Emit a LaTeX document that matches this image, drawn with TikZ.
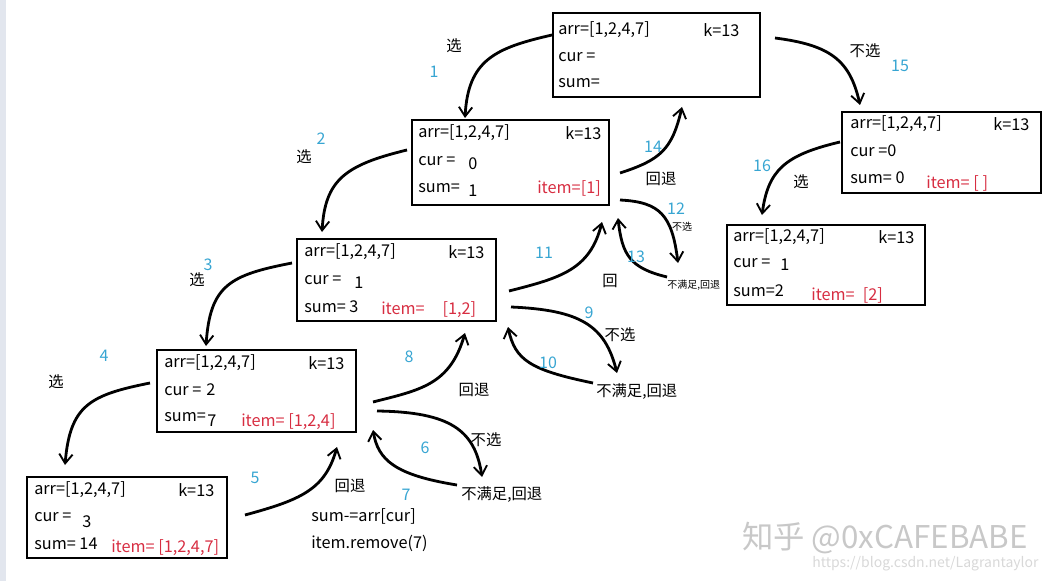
\documentclass[tikz,border=0pt]{standalone}
\usepackage{fontspec}
\setmainfont{Noto Sans CJK SC}
\usetikzlibrary{arrows.meta,fit}
\definecolor{numblue}{RGB}{55,165,210}
\definecolor{itemred}{RGB}{215,45,65}
\definecolor{wmgray}{RGB}{200,200,200}
\definecolor{stripgray}{RGB}{226,230,238}
\tikzset{
  box/.style={draw=black,line width=0.9pt,inner sep=0pt},
  txt/.style={anchor=west,inner sep=0pt,font=\fontsize{12.2}{14}\selectfont},
  red/.style={txt,text=itemred},
  num/.style={inner sep=0pt,text=numblue,font=\fontsize{12}{14}\selectfont},
  lab/.style={inner sep=0pt,font=\fontsize{11.5}{13}\selectfont},
  small/.style={inner sep=0pt,font=\fontsize{7.5}{9}\selectfont},
  flow/.style={line width=2.1pt,-{Straight Barb[length=7pt,width=10pt,line width=1.4pt]}},
}
\begin{document}
\begin{tikzpicture}[x=0.75pt,y=-0.75pt]
\useasboundingbox (0,0) rectangle (1055,581);
\fill[stripgray] (0,0) rectangle (6,581);

% boxes
\node[box,fit={(553,13) (760,97)}] (A) {};
\node[box,fit={(412,120) (609,205)}] (B) {};
\node[box,fit={(297,239) (496,321)}] (C) {};
\node[box,fit={(157,350) (356,432)}] (D) {};
\node[box,fit={(27,477) (227,558)}] (E) {};
\node[box,fit={(842,112) (1041,193)}] (F) {};
\node[box,fit={(727,225) (925,305)}] (G) {};

% box A
\node[txt] (A1) at (558,30) {arr=[1,2,4,7]};
\node[txt] (A2) at (703,30) {k=13};
\node[txt] (A3) at (558,57) {cur =};
\node[txt] (A4) at (558,83) {sum=};
% box B
\node[txt] (B1) at (418,133) {arr=[1,2,4,7]};
\node[txt] (B2) at (565,133) {k=13};
\node[txt] (B3) at (418,161) {cur =};
\node[txt] (B4) at (468,164) {0};
\node[txt] (B5) at (418,188) {sum=};
\node[txt] (B6) at (468,191) {1};
\node[red] (B7) at (537,188) {item=[1]};
% box C
\node[txt] (C1) at (304,252) {arr=[1,2,4,7]};
\node[txt] (C2) at (448,252) {k=13};
\node[txt] (C3) at (304,280) {cur =};
\node[txt] (C4) at (354,283) {1};
\node[txt] (C5) at (304,307) {sum= 3};
\node[red] (C6) at (381,310) {item=\hspace{1.1em}[1,2]};
% box D
\node[txt] (D1) at (164,363) {arr=[1,2,4,7]};
\node[txt] (D2) at (308,363) {k=13};
\node[txt] (D3) at (164,390) {cur =\hspace{0.3em}2};
\node[txt] (D4) at (164,417) {sum=};
\node[txt] (D5) at (207,421) {7};
\node[red] (D6) at (241,422) {item= [1,2,4]};
% box E
\node[txt] (E1) at (34,490) {arr=[1,2,4,7]};
\node[txt] (E2) at (178,490) {k=13};
\node[txt] (E3) at (34,517) {cur =};
\node[txt] (E4) at (82,522) {3};
\node[txt] (E5) at (34,544) {sum= 14};
\node[red] (E6) at (111,548) {item= [1,2,4,7]};
% box F
\node[txt] (F1) at (850,124) {arr=[1,2,4,7]};
\node[txt] (F2) at (993,124) {k=13};
\node[txt] (F3) at (850,151) {cur =0};
\node[txt] (F4) at (850,178) {sum= 0};
\node[red] (F5) at (926,183) {item= [ ]};
% box G
\node[txt] (G1) at (733,237) {arr=[1,2,4,7]};
\node[txt] (G2) at (878,237) {k=13};
\node[txt] (G3) at (733,263) {cur =};
\node[txt] (G4) at (780,265) {1};
\node[txt] (G5) at (733,291) {sum=2};
\node[red] (G6) at (811,295) {item=\hspace{0.5em}[2]};

% free texts
\node[txt] (r5a) at (311,516) {sum-=arr[cur]};
\node[txt] (r5b) at (311,543) {item.remove(7)};
\node[lab,anchor=west] (n6) at (461,495) {不满足,回退};
\node[lab,anchor=west] (n9) at (596,392) {不满足,回退};
\node[small,anchor=west] (n12) at (667,285) {不满足,回退};

% connector end points
\coordinate (s1) at (552,35);   \coordinate (t1) at (465,118);
\coordinate (s2) at (407,150);  \coordinate (t2) at (322,232);
\coordinate (s3) at (292,263);  \coordinate (t3) at (206,346);
\coordinate (s4) at (150,383);  \coordinate (t4) at (65,465);
\coordinate (s5) at (245,515);  \coordinate (t5) at (337,447);
\coordinate (s6) at (377,411);  \coordinate (t6) at (482,477);
\coordinate (s7) at (457,485);  \coordinate (t7) at (373,430);
\coordinate (s8) at (373,402);  \coordinate (t8) at (465,333);
\coordinate (s9) at (511,307);  \coordinate (t9) at (617,373);
\coordinate (s10) at (593,383); \coordinate (t10) at (508,327);
\coordinate (s11) at (509,291); \coordinate (t11) at (602,222);
\coordinate (s12) at (620,200); \coordinate (t12) at (678,263);
\coordinate (s13) at (667,277); \coordinate (t13) at (618,218);
\coordinate (s14) at (620,173); \coordinate (t14) at (682,107);
\coordinate (s15) at (775,38);  \coordinate (t15) at (860,105);
\coordinate (s16) at (840,142); \coordinate (t16) at (762,215);

\draw[flow] (s1) .. controls (495,48) and (468,60) .. (t1);
\draw[flow] (s2) .. controls (345,165) and (325,180) .. (t2);
\draw[flow] (s3) .. controls (230,275) and (210,285) .. (t3);
\draw[flow] (s4) .. controls (90,395) and (70,405) .. (t4);
\draw[flow] (s5) .. controls (300,500) and (325,490) .. (t5);
\draw[flow] (s6) .. controls (450,412) and (475,430) .. (t6);
\draw[flow] (s7) .. controls (395,475) and (378,460) .. (t7);
\draw[flow] (s8) .. controls (420,390) and (450,385) .. (t8);
\draw[flow] (s9) .. controls (580,310) and (605,325) .. (t9);
\draw[flow] (s10) .. controls (530,370) and (515,360) .. (t10);
\draw[flow] (s11) .. controls (560,278) and (590,270) .. (t11);
\draw[flow] (s12) .. controls (660,202) and (672,215) .. (t12);
\draw[flow] (s13) .. controls (630,268) and (622,255) .. (t13);
\draw[flow] (s14) .. controls (660,160) and (672,150) .. (t14);
\draw[flow] (s15) .. controls (830,45) and (850,60) .. (t15);
\draw[flow] (s16) .. controls (785,155) and (768,170) .. (t16);

% labels
\node[lab] (l1) at (454,46) {选};   \node[num] (k1) at (434,72) {1};
\node[lab] (l2) at (304,157) {选};  \node[num] (k2) at (321,139) {2};
\node[lab] (l3) at (197,280) {选};  \node[num] (k3) at (208,265) {3};
\node[lab] (l4) at (56,382) {选};   \node[num] (k4) at (104,356) {4};
\node[num] (k5) at (255,478) {5};
\node[lab] (l5) at (350,486) {回退};
\node[num] (k6) at (425,448) {6};   \node[lab] (l6) at (486,440) {不选};
\node[num] (k7) at (406,495) {7};
\node[num] (k8) at (409,357) {8};   \node[lab] (l8) at (474,390) {回退};
\node[num] (k9) at (589,313) {9};   \node[lab] (l9) at (620,335) {不选};
\node[num] (k10) at (548,363) {10};
\node[num] (k11) at (544,253) {11}; \node[lab] (l11) at (610,281) {回};
\node[num] (k12) at (676,209) {12}; \node[small] (l12) at (682,227) {不选};
\node[num] (k13) at (636,257) {13};
\node[num] (k14) at (653,147) {14}; \node[lab] (l14) at (661,179) {回退};
\node[lab] (l15) at (865,51) {不选}; \node[num] (k15) at (900,66) {15};
\node[num] (k16) at (762,166) {16}; \node[lab] (l16) at (801,182) {选};

% watermark
\node[anchor=west,inner sep=0pt,text=wmgray,font=\fontsize{23.5}{25}\selectfont] (wm1) at (742,538) {知乎 @0xCAFEBABE};
\node[anchor=west,inner sep=0pt,text=wmgray!70,font=\fontsize{10.5}{12}\selectfont] (wm2) at (812,564) {https://blog.csdn.net/Lagrantaylor};
\end{tikzpicture}
\end{document}
